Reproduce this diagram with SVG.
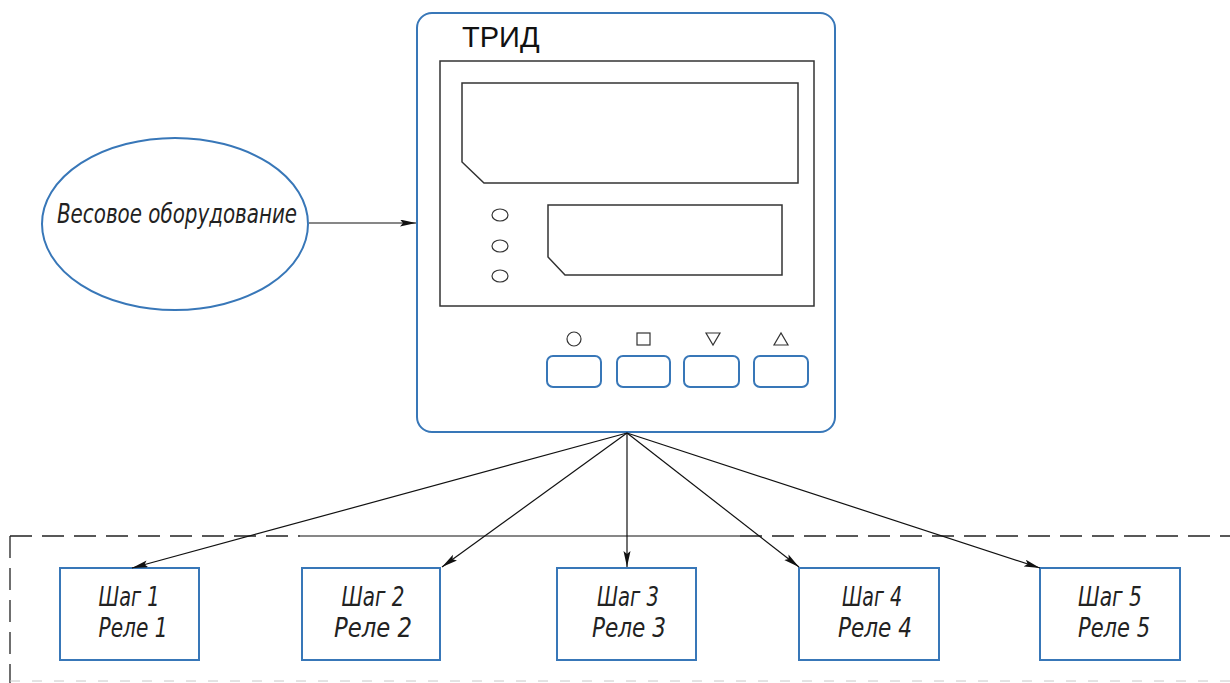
<svg xmlns="http://www.w3.org/2000/svg" width="1230" height="683" viewBox="0 0 1230 683">
<style>
.blue{fill:none;stroke:#3877b8;stroke-width:2}
.dark{fill:none;stroke:#333;stroke-width:1.5}
.conn{fill:none;stroke:#111;stroke-width:1.2}
.dash{fill:none;stroke:#222;stroke-width:1.3;stroke-dasharray:22 10}
.it{font-family:"DejaVu Sans Condensed","DejaVu Sans",sans-serif;font-style:italic;font-size:26px;fill:#222}
.big{font-size:27px}
.sym{fill:none;stroke:#333;stroke-width:1.2}
</style>
<defs>
<marker id="ah" markerUnits="userSpaceOnUse" markerWidth="18" markerHeight="8" refX="16" refY="3.5" orient="auto">
<path d="M0,0 L16,3.5 L0,7 L3,3.5 z" fill="#111"/>
</marker>
</defs>
<rect width="1230" height="683" fill="#fff"/>

<g id="frame">
<line class="dash" x1="10" y1="536" x2="300" y2="536"/>
<line class="conn" x1="300" y1="536" x2="740" y2="536"/>
<line class="dash" x1="740" y1="536" x2="1230" y2="536"/>
<line class="dash" x1="10" y1="536" x2="10" y2="683"/>
<line x1="10" y1="681" x2="1230" y2="681" stroke="#c8c8c8" stroke-width="1" stroke-dasharray="10 12"/>
</g>

<g id="scale">
<ellipse class="blue" cx="175" cy="224" rx="133" ry="86" stroke="#3b7ea6"/>
<text class="it big" x="177" y="223" text-anchor="middle" textLength="240" lengthAdjust="spacingAndGlyphs">Весовое оборудование</text>
</g>

<g id="trid">
<rect class="blue" x="417" y="13" width="418" height="419" rx="15" stroke="#3a86c0"/>
<text x="462" y="47" font-family="Liberation Sans, Arial, sans-serif" font-size="29" fill="#111">ТРИД</text>
<rect class="dark" x="440" y="61" width="374" height="245"/>
<path class="dark" d="M462,83 H798 V183 H484 L462,162 Z"/>
<path class="dark" d="M548,205 H782 V275 H565 L548,257 Z"/>
<ellipse class="sym" cx="500" cy="215" rx="8" ry="6"/>
<ellipse class="sym" cx="500" cy="246" rx="8" ry="6"/>
<ellipse class="sym" cx="500" cy="276" rx="8" ry="6"/>
<circle class="sym" cx="574" cy="339" r="7"/>
<rect class="sym" x="637" y="333" width="13" height="12"/>
<path class="sym" d="M706,333 H720 L713,345 Z"/>
<path class="sym" d="M774,345 H788 L781,333 Z"/>
<rect class="blue" x="547" y="356" width="54" height="31" rx="6" stroke="#3b6fa8"/>
<rect class="blue" x="617" y="356" width="53" height="31" rx="6" stroke="#3b6fa8"/>
<rect class="blue" x="684" y="356" width="55" height="31" rx="6" stroke="#3b6fa8"/>
<rect class="blue" x="754" y="356" width="54" height="31" rx="6" stroke="#3b6fa8"/>
</g>

<g id="step1">
<rect class="blue" x="60" y="568" width="139" height="92"/>
<text class="it" x="129" y="606" text-anchor="middle" textLength="61" lengthAdjust="spacingAndGlyphs">Шаг 1</text>
<text class="it" x="133" y="637" text-anchor="middle" textLength="69" lengthAdjust="spacingAndGlyphs">Реле 1</text>
</g>
<g id="step2">
<rect class="blue" x="302" y="568" width="138" height="92"/>
<text class="it" x="373" y="606" text-anchor="middle" textLength="63" lengthAdjust="spacingAndGlyphs">Шаг 2</text>
<text class="it" x="373" y="637" text-anchor="middle" textLength="78" lengthAdjust="spacingAndGlyphs">Реле 2</text>
</g>
<g id="step3">
<rect class="blue" x="557" y="568" width="139" height="92"/>
<text class="it" x="628" y="606" text-anchor="middle" textLength="62" lengthAdjust="spacingAndGlyphs">Шаг 3</text>
<text class="it" x="629" y="637" text-anchor="middle" textLength="74" lengthAdjust="spacingAndGlyphs">Реле 3</text>
</g>
<g id="step4">
<rect class="blue" x="799" y="568" width="140" height="92"/>
<text class="it" x="872" y="606" text-anchor="middle" textLength="60" lengthAdjust="spacingAndGlyphs">Шаг 4</text>
<text class="it" x="875" y="637" text-anchor="middle" textLength="74" lengthAdjust="spacingAndGlyphs">Реле 4</text>
</g>
<g id="step5">
<rect class="blue" x="1040" y="568" width="140" height="92"/>
<text class="it" x="1110" y="606" text-anchor="middle" textLength="64" lengthAdjust="spacingAndGlyphs">Шаг 5</text>
<text class="it" x="1114" y="637" text-anchor="middle" textLength="72" lengthAdjust="spacingAndGlyphs">Реле 5</text>
</g>

<g id="connectors">
<line class="conn" x1="309" y1="223" x2="416" y2="223" marker-end="url(#ah)"/>
<line class="conn" x1="627" y1="433" x2="132" y2="568" marker-end="url(#ah)"/>
<line class="conn" x1="627" y1="433" x2="442" y2="567" marker-end="url(#ah)"/>
<line class="conn" x1="627" y1="433" x2="627" y2="567" marker-end="url(#ah)"/>
<line class="conn" x1="627" y1="433" x2="799" y2="567" marker-end="url(#ah)"/>
<line class="conn" x1="627" y1="433" x2="1040" y2="568" marker-end="url(#ah)"/>
</g>
</svg>
